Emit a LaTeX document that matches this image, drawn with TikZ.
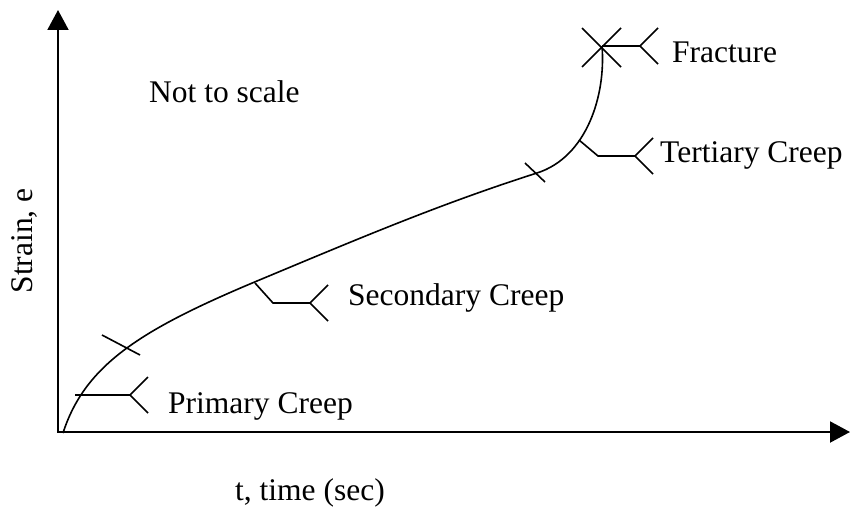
\documentclass[tikz,border=0pt]{standalone}
\usepackage{fontspec}
\setmainfont{Liberation Serif}
\usetikzlibrary{arrows.meta}
\tikzset{
	axis/.style={line width=2pt,-{Triangle[length=20pt,width=21pt]}},
	lead/.style={line width=1.6pt},
	lbl/.style={inner sep=0pt,anchor=base west,font=\fontsize{31.5}{36}\selectfont}
}
\begin{document}
\begin{tikzpicture}[x=1pt,y=-1pt]
\useasboundingbox (0,0) rectangle (850,511);

\coordinate (O) at (58,432);
\draw[axis] (O) -- (58,10);
\draw[axis] (57,432) -- (850,432);

\node[lbl,anchor=center,rotate=90] (strain) at (24,241){Strain, e};
\node[lbl] (time) at (235,500){t, time (sec)};
\node[lbl] (scale) at (149,102){Not to scale};

% creep curve
\coordinate (start) at (63,433);
\coordinate (knee) at (257,281);
\coordinate (bend) at (537,173);
\coordinate (top) at (602,46);
\draw[lead] (start) .. controls (85,365) and (140,330) .. (knee)
	.. controls (360,238) and (440,204) .. (bend)
	.. controls (587,157) and (606,95) .. (top);

% ticks across the curve
\draw[lead] (102,335)--(140,355);
\draw[lead] (525,163)--(545,182);
\draw[lead] (582,28)--(621,67);
\draw[lead] (621,28)--(582,67);

% leaders to the labels
\draw[lead] (75,395)--(130,395)coordinate(primary);
\draw[lead] (255,283)--(273,303)--(310,303)coordinate(secondary);
\draw[lead] (579,140)--(598,156)--(635,156)coordinate(tertiary);
\draw[lead] (top)--(640,46)coordinate(fracture);

\foreach \f/\ftext/\fx/\fy in {primary/Primary Creep/168/413,secondary/Secondary Creep/348/305,tertiary/Tertiary Creep/660/162,fracture/Fracture/672/63}
{
	\draw[lead] ([shift={(18,-18)}]\f)--(\f)--++(18,18);
	\node[lbl] (\f lbl) at (\fx,\fy){\ftext};
}

\end{tikzpicture}
\end{document}
